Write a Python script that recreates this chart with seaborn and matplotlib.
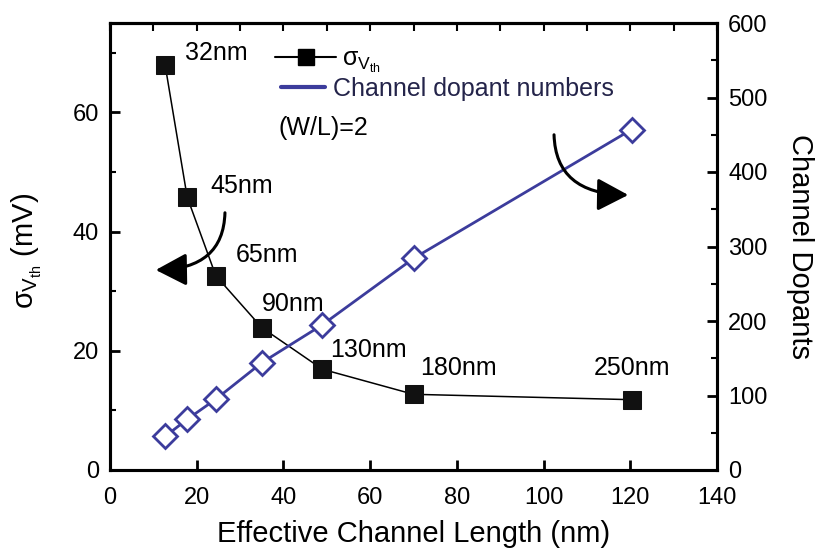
import matplotlib
matplotlib.use("Agg")
import matplotlib.pyplot as plt
import seaborn as sns
import pandas as pd
from matplotlib.lines import Line2D
from matplotlib.patches import FancyArrowPatch
from matplotlib.ticker import MultipleLocator

# Data
length_nm = [12.7, 17.8, 24.4, 35.0, 49.0, 70.0, 120.3]
sigma_vth = [68.0, 45.8, 32.6, 23.9, 16.9, 12.7, 11.8]
dopants = [45, 68, 95, 144, 195, 284, 457]
node_labels = ["32nm", "45nm", "65nm", "90nm", "130nm", "180nm", "250nm"]

sns.set_theme(style="white")
plt.rcParams['font.family'] = ['Liberation Sans', 'DejaVu Sans']
plt.rcParams['mathtext.fontset'] = 'custom'
plt.rcParams['mathtext.rm'] = 'Liberation Sans'
plt.rcParams['mathtext.it'] = 'Liberation Sans'
plt.rcParams['mathtext.bf'] = 'Liberation Sans:bold'
for k in ('text.color', 'axes.labelcolor', 'xtick.color', 'ytick.color', 'axes.edgecolor'):
    plt.rcParams[k] = 'black'

BLUE = "#3c3c9c"
df = pd.DataFrame({"L": length_nm, "sigma": sigma_vth, "dop": dopants})

W, H = 818, 551
fig = plt.figure(figsize=(W / 100, H / 100), dpi=100)
ax = fig.add_axes([110 / W, 1 - 470 / H, 607 / W, 447 / H])
ax2 = ax.twinx()

sns.lineplot(data=df, x="L", y="sigma", ax=ax, color="black", lw=1.1,
             marker="s", markersize=12.5, markerfacecolor="#111111",
             markeredgecolor="#111111", zorder=3)
sns.lineplot(data=df, x="L", y="dop", ax=ax2, color=BLUE, lw=2.0,
             marker="D", markersize=12, markerfacecolor="white",
             markeredgecolor=BLUE, markeredgewidth=2.0, zorder=3)

ax.set_xlim(0, 140)
ax.set_ylim(0, 75)
ax2.set_ylim(0, 600)

ax.xaxis.set_major_locator(MultipleLocator(20))
ax.yaxis.set_major_locator(MultipleLocator(20))
ax.yaxis.set_minor_locator(MultipleLocator(10))
ax2.yaxis.set_major_locator(MultipleLocator(100))
ax2.yaxis.set_minor_locator(MultipleLocator(50))

for a in (ax, ax2):
    for s in a.spines.values():
        s.set_linewidth(2.2)
        s.set_color("black")

TS = 17
ax.tick_params(axis="x", which="major", direction="in", length=7, width=2,
               labelsize=TS, pad=12, bottom=True, top=False)
ax.tick_params(axis="y", which="major", direction="in", length=7, width=2,
               labelsize=TS, pad=8, left=True, right=False)
ax.tick_params(axis="y", which="minor", direction="in", length=4, width=1.5,
               left=True, right=False)
ax2.tick_params(axis="y", which="major", direction="in", length=7, width=2,
                labelsize=TS, pad=8, right=True, left=False)
ax2.tick_params(axis="y", which="minor", direction="in", length=4, width=1.5,
                right=True, left=False)

# top ticks every 10 (no labels)
axt = ax.secondary_xaxis("top")
axt.xaxis.set_major_locator(MultipleLocator(10))
axt.tick_params(axis="x", direction="in", length=6, width=1.5, labeltop=False)
axt.spines["top"].set_linewidth(2.2)

ax.set_xlabel("Effective Channel Length (nm)", fontsize=21)
ax.xaxis.set_label_coords(0.5, (470 - 520) / 447)
ax.set_ylabel(r"$\sigma_{V_{th}}$ (mV)", fontsize=21)
ax.yaxis.set_label_coords((44 - 110) / 607, 0.49)
ax2.set_ylabel("Channel Dopants", fontsize=21, rotation=270, va="bottom")
ax2.yaxis.set_label_coords((786 - 110) / 607, 0.5)

# node labels (pixel offsets from marker: left edge, vertical centre)
offsets = [(20, 12), (23, 11), (20, 21), (0, 24), (8, 19), (7, 26), (0, 32)]
for xv, yv, lab, (dx, dy) in zip(length_nm, sigma_vth, node_labels, offsets):
    ax.annotate(lab, (xv, yv), xytext=(dx, dy), textcoords="offset pixels",
                fontsize=18, ha="center" if lab == "250nm" else "left",
                va="center")

# legend: two rows drawn as separate legends to match the original layout
h1 = Line2D([0], [0], color="black", lw=1.5, marker="s", markersize=12)
h2 = Line2D([0], [0], color=BLUE, lw=3.0)
leg1 = fig.legend([h1], [r"$\sigma_{V_{th}}$"], loc="center left",
                  bbox_to_anchor=(275 / W, 1 - 61 / H), frameon=False,
                  fontsize=18, handlelength=2.45, handletextpad=0.22,
                  borderpad=0, borderaxespad=0)
leg2 = fig.legend([h2], ["Channel dopant numbers"], loc="center left",
                  bbox_to_anchor=(281 / W, 1 - 89 / H), frameon=False,
                  fontsize=18, handlelength=1.75, handletextpad=0.33,
                  borderpad=0, borderaxespad=0)
leg2.get_texts()[0].set_color("#24244a")

fig.text(279 / W, 1 - 128 / H, "(W/L)=2", fontsize=18, ha="left", va="center")

# curved arrows (pixel coordinates, top-left origin)
for p0, p1 in (((225, 210), (153, 270)), ((554, 132), (631, 195))):
    arr = FancyArrowPatch((p0[0], H - p0[1]), (p1[0], H - p1[1]),
                          transform=None,
                          connectionstyle="angle3,angleA=90,angleB=0",
                          arrowstyle="-|>,head_length=19,head_width=10",
                          color="black", lw=2.2, mutation_scale=1, zorder=5)
    fig.patches.append(arr)

fig.savefig("out.png", dpi=100)
